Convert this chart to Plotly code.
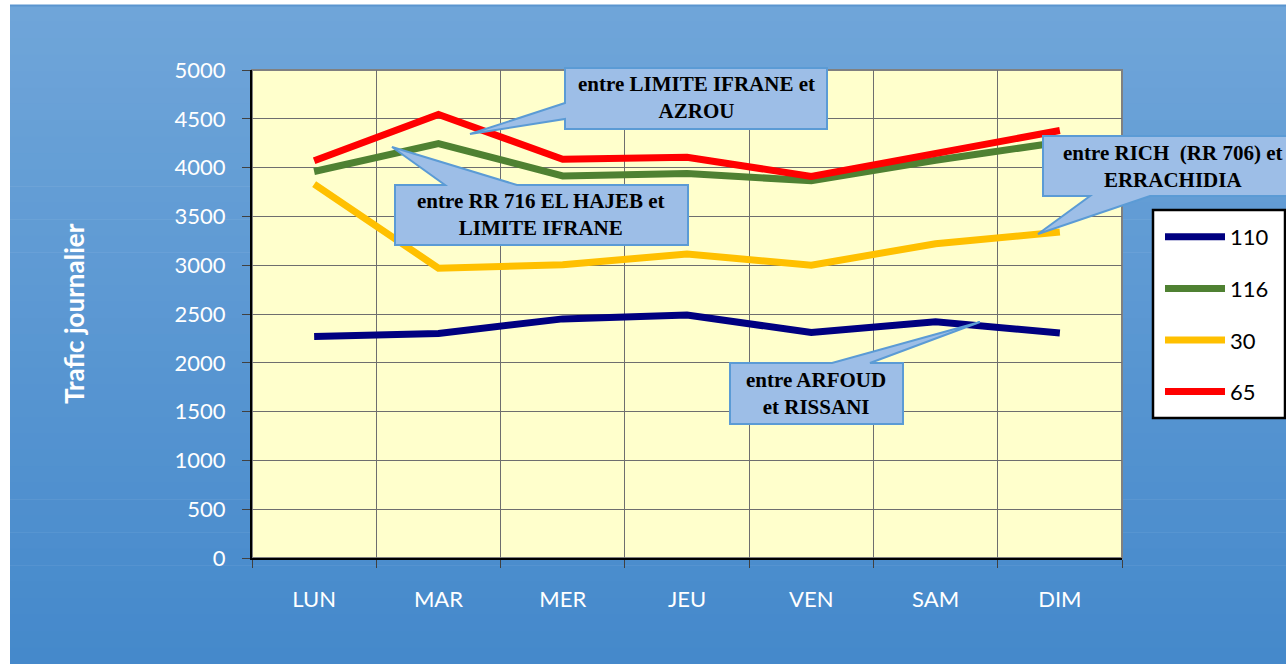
import plotly.graph_objects as go

days = ["LUN", "MAR", "MER", "JEU", "VEN", "SAM", "DIM"]
s110 = [2270, 2300, 2450, 2490, 2310, 2420, 2305]
s116 = [3960, 4245, 3915, 3940, 3865, 4075, 4260]
s30 = [3830, 2970, 3005, 3115, 3000, 3220, 3340]
s65 = [4070, 4545, 4085, 4105, 3910, 4150, 4380]

series = [("110", s110, "#000080"), ("116", s116, "#4F8132"),
          ("30", s30, "#FFC000"), ("65", s65, "#FF0000")]

W, H = 1286, 664
L, R, T, B = 252, 1122, 70, 558


def PX(x):
    return (x - L) / (R - L)


def PY(y):
    return (B - y) / (B - T)


fig = go.Figure()
for i, (name, vals, col) in enumerate(series):
    fig.add_trace(go.Scatter(x=days, y=vals, name=name, mode="lines",
                             line=dict(color=col, width=7),
                             legendgroup=name))

shapes = []
# background gradient panel
n = 40
top_c = (111, 165, 217)
bot_c = (69, 137, 203)
y0, y1 = 5, 664
for k in range(n):
    t = k / (n - 1)
    c = tuple(int(round(top_c[j] + (bot_c[j] - top_c[j]) * t)) for j in range(3))
    ya = y0 + (y1 - y0) * k / n
    yb = y0 + (y1 - y0) * (k + 1) / n + 0.6
    shapes.append(dict(type="rect", xref="paper", yref="paper", layer="below",
                       x0=PX(10), x1=PX(1290), y0=PY(ya), y1=PY(yb),
                       fillcolor="rgb(%d,%d,%d)" % c, line=dict(width=0)))
shapes.append(dict(type="line", xref="paper", yref="paper", layer="below",
                   x0=PX(10), x1=PX(1290), y0=PY(5.5), y1=PY(5.5),
                   line=dict(color="#5B95CF", width=2)))
# plot area
shapes.append(dict(type="rect", xref="paper", yref="paper", layer="below",
                   x0=0, x1=1, y0=0, y1=1, fillcolor="#FFFFCC",
                   line=dict(color="#808080", width=2)))


def poly(pts):
    s = "M " + " L ".join("%f,%f" % (PX(x), PY(y)) for x, y in pts) + " Z"
    return dict(type="path", xref="paper", yref="paper", layer="above", path=s,
                fillcolor="#9DBEE7", line=dict(color="#5B9BD5", width=2))


shapes.append(poly([(565, 68), (827, 68), (827, 129), (565, 129), (565, 119), (470, 134), (565, 103)]))
shapes.append(poly([(395, 185), (445, 185), (392, 147), (517, 185), (688, 185), (688, 245), (395, 245)]))
shapes.append(poly([(1043, 136), (1300, 136), (1300, 196), (1150, 196), (1038, 234), (1090, 196), (1043, 196)]))
shapes.append(poly([(730, 363), (832, 363), (980, 322), (870, 363), (903, 363), (903, 424), (730, 424)]))
# legend box
shapes.append(dict(type="rect", xref="paper", yref="paper", layer="above",
                   x0=PX(1153), x1=PX(1285), y0=PY(210), y1=PY(418),
                   fillcolor="white", line=dict(color="black", width=2.5)))

callout_font = dict(family="Liberation Serif", size=21, color="black")
annotations = [
    dict(text="<b>entre LIMITE IFRANE et<br>AZROU</b>", x=PX(696), y=PY(98)),
    dict(text="<b>entre RR 716 EL HAJEB et<br>LIMITE IFRANE</b>", x=PX(541), y=PY(215)),
    dict(text="<b>entre RICH  (RR 706) et<br>ERRACHIDIA</b>", x=PX(1172), y=PY(166)),
    dict(text="<b>entre ARFOUD<br>et RISSANI</b>", x=PX(816), y=PY(393)),
]
for a in annotations:
    a.update(xref="paper", yref="paper", showarrow=False, xanchor="center",
             yanchor="middle", font=callout_font)
annotations.append(dict(text="<b>Trafic journalier</b>", xref="paper", yref="paper",
                        x=PX(74), y=PY(314), showarrow=False, textangle=-90,
                        xanchor="center", yanchor="middle",
                        font=dict(family="Lato", size=26, color="white")))

fig.update_layout(
    width=W, height=H, autosize=False,
    margin=dict(l=L, r=W - R, t=T, b=H - B, pad=0),
    paper_bgcolor="white", plot_bgcolor="rgba(0,0,0,0)",
    shapes=shapes, annotations=annotations,
    showlegend=True,
    legend=dict(x=PX(1160), y=PY(216), xanchor="left", yanchor="top",
                bgcolor="rgba(0,0,0,0)", borderwidth=0,
                font=dict(family="Lato", size=22, color="black"),
                tracegroupgap=20, itemwidth=60),
    xaxis=dict(type="category", range=[-0.5, 6.5], tickson="boundaries",
               showgrid=True, gridcolor="#6E6E6E", gridwidth=1,
               ticks="outside", ticklen=8, tickcolor="#404040",
               showline=True, linecolor="black", linewidth=2,
               tickfont=dict(family="Lato", size=22, color="white"),
               ticklabelstandoff=21),
    yaxis=dict(range=[0, 5000], dtick=500, showgrid=True, gridcolor="#6E6E6E",
               gridwidth=1, ticks="outside", ticklen=8, tickcolor="#404040",
               showline=True, linecolor="black", linewidth=2,
               zeroline=False,
               tickfont=dict(family="Lato", size=22, color="white"),
               ticklabelstandoff=12),
)

fig.write_html("out.html", config={"displayModeBar": False},
               post_script="document.body.style.margin='0';document.body.style.padding='0';")
